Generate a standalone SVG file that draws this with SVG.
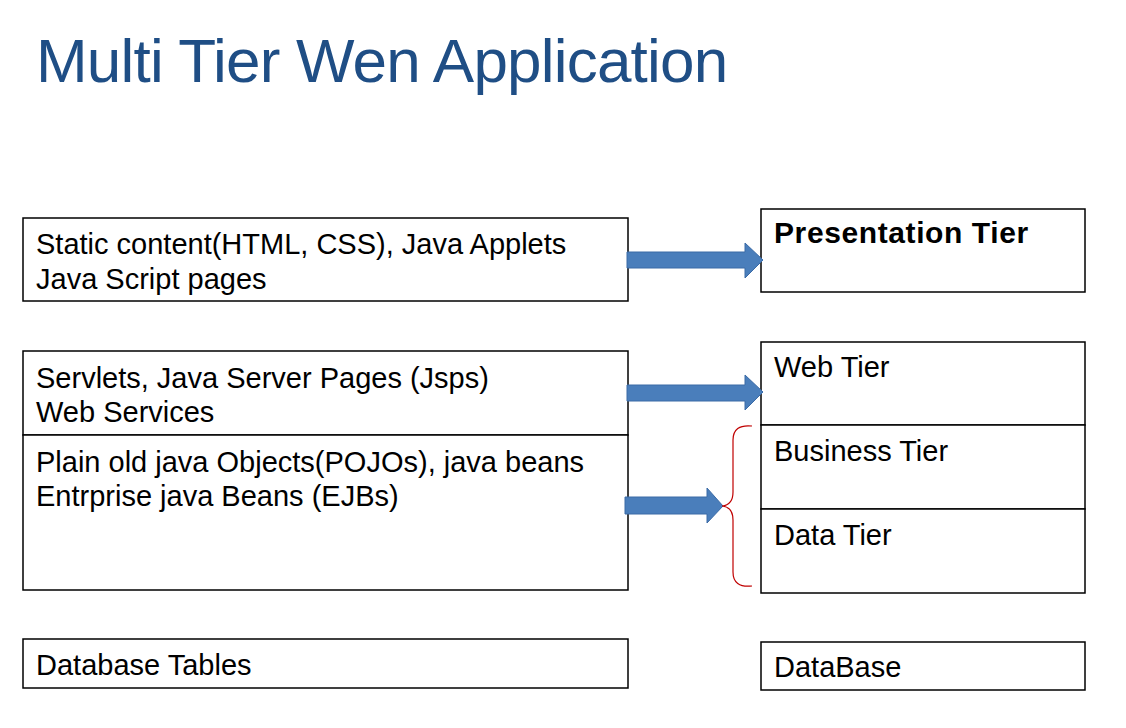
<svg xmlns="http://www.w3.org/2000/svg" width="1126" height="728" viewBox="0 0 1126 728">
<style>
.box{fill:#fff;stroke:#000;stroke-width:1.5}
.t{font-family:"Liberation Sans",Arial,sans-serif;font-size:29px;fill:#000}
.b{font-weight:bold;font-size:30px;letter-spacing:0.6px}
.title{font-family:"Liberation Sans",Arial,sans-serif;font-size:62px;letter-spacing:-0.8px;fill:#1f4e85}
.arrow{fill:#4a7ebb;stroke:#3a6aa6;stroke-width:1}
</style>
<rect width="1126" height="728" fill="#fff"/>
<text class="title" x="36" y="82">Multi Tier Wen Application</text>
<g id="left-static">
<rect class="box" x="23" y="218" width="605" height="83"/>
<text class="t" x="36" y="254">Static content(HTML, CSS), Java Applets</text>
<text class="t" x="36" y="289">Java Script pages</text>
</g>
<g id="left-servlets">
<rect class="box" x="23" y="351" width="605" height="84"/>
<text class="t" x="36" y="388">Servlets, Java Server Pages (Jsps)</text>
<text class="t" x="36" y="422">Web Services</text>
</g>
<g id="left-pojo">
<rect class="box" x="23" y="435" width="605" height="155"/>
<text class="t" x="36" y="472">Plain old java Objects(POJOs), java beans</text>
<text class="t" x="36" y="506">Entrprise java Beans (EJBs)</text>
</g>
<g id="left-db">
<rect class="box" x="23" y="639" width="605" height="49"/>
<text class="t" x="36" y="675">Database Tables</text>
</g>
<g id="presentation-tier">
<rect class="box" x="761" y="209" width="324" height="83"/>
<text class="t b" x="774" y="243">Presentation Tier</text>
</g>
<g id="web-tier">
<rect class="box" x="761" y="342" width="324" height="83"/>
<text class="t" x="774" y="377">Web Tier</text>
</g>
<g id="business-tier">
<rect class="box" x="761" y="425" width="324" height="84"/>
<text class="t" x="774" y="461">Business Tier</text>
</g>
<g id="data-tier">
<rect class="box" x="761" y="509" width="324" height="84"/>
<text class="t" x="774" y="545">Data Tier</text>
</g>
<g id="database">
<rect class="box" x="761" y="642" width="324" height="48"/>
<text class="t" x="774" y="677">DataBase</text>
</g>
<g id="connectors">
<path class="arrow" d="M627,252 H745 V243 L763,260 L745,278 V268 H627 Z"/>
<path class="arrow" d="M627,385 H745 V375 L763,392 L745,410 V401 H627 Z"/>
<path class="arrow" d="M625,497 H707 V488 L723,506 L707,523 V514 H625 Z"/>
<path d="M752,426 Q733,424 733,440 V492 Q733,505 722,506 Q733,507 733,520 V572 Q733,588 752,586" fill="none" stroke="#c00000" stroke-width="1.2"/>
</g>
</svg>
